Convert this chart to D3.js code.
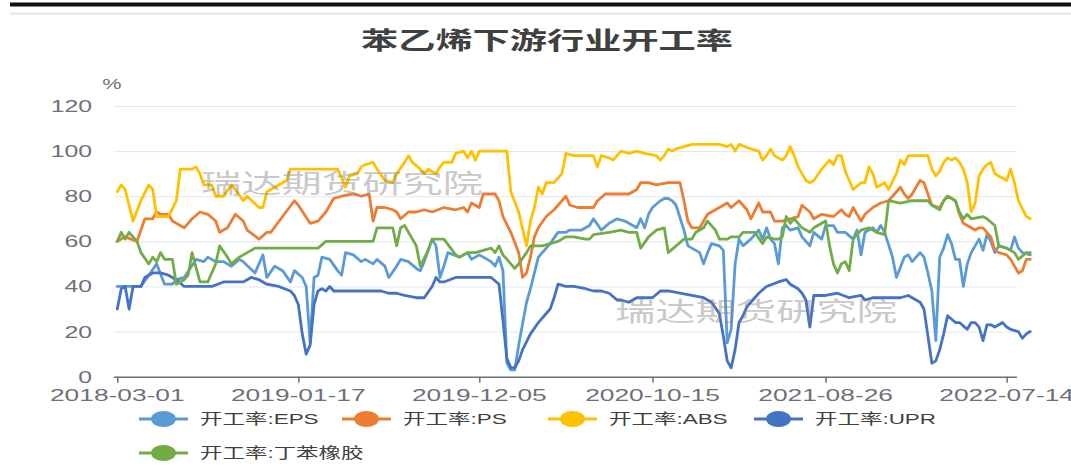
<!DOCTYPE html>
<html><head><meta charset="utf-8">
<script src="https://cdn.jsdelivr.net/npm/d3@7/dist/d3.min.js"></script>
<style>body{margin:0;background:#fff;} svg{display:block;}</style>
</head><body><svg id="c" width="1071" height="476"></svg>
<script>
// ---------- data ----------
const chartTitle = "苯乙烯下游行业开工率";
const unitLabel = "%";
const watermark = "瑞达期货研究院";
const yTickValues = [0, 20, 40, 60, 80, 100, 120];
const tickLabels = ["2018-03-01", "2019-01-17", "2019-12-05", "2020-10-15", "2021-08-26", "2022-07-14"];
const firstWeek = "2018-03-01";
const lastWeek = "2022-07-28";
const skippedWeeks = ["2020-01-30", "2021-02-18"];
const seriesNames = ["开工率:EPS", "开工率:PS", "开工率:ABS", "开工率:UPR", "开工率:丁苯橡胶"];

// [week index, value %]
const eps = [[0,40],[6,40],[8,45],[10,50],[12,41],[14,41],[15,43],[17,44],[20,52],[22,51],[23,53],[25,51],[27,51],[29,49],[31,52],[32,51],[35,46],[37,54],[38,44],[40,49],[42,47],[44,42],[45,47],[47,44],[48,40],[49,15],[50,44],[51,45],[52,53],[54,52],[56,47],[57,45],[58,55],[60,54],[62,51],
[63,52],[65,50],[66,52],[68,49],[69,44],[71,49],[72,52],[74,51],[76,48],[77,47],[78,51],[80,61],[81,58],[82,44],[83,49],[84,55],[87,53],[89,55],[90,52],[92,54],[95,51],[96,49],[97,53],[98,47],[99,6],[100,3],[101,3],[102,14],[104,33],[105,39],[107,53],[108,55],[110,59],[112,64],[114,64],[115,65],[118,65],[120,67],[121,70],[123,65],[125,68],[127,70],[129,69],[132,66],[133,70],[134,66],[135,72],[136,75],[138,78],[139,79],
[140,79],[141,78],[142,76],[144,65],[145,58],[146,57],[148,55],[149,50],[150,55],[151,59],[153,58],[154,56],[155,15],[156,21],[157,50],[158,61],[159,58],[161,61],[163,65],[164,61],[165,66],[166,61],[167,59],[168,50],[169,66],[170,67],[171,65],[173,66],[174,62],[176,58],[177,64],[179,61],[180,67],[182,67],[183,64],[185,64],[187,61],[188,65],[189,54],[190,64],[192,66],[193,64],[194,67],[195,64],[197,53],[198,44],[200,53],[201,54],[202,51],
[204,55],[205,53],[206,46],[207,38],[208,16],[209,53],[210,57],[211,63],[212,59],[213,52],[214,52],[215,40],[216,50],[217,55],[218,58],[219,61],[220,56],[221,63],[222,60],[223,55],[224,58],[226,57],[227,56],[228,62],[229,57],[230,55],[232,54]];

const ps = [[0,60],[2,62],[5,60],[7,70],[9,70],[10,73],[11,72],[13,72],[14,69],[15,68],[17,66],[19,70],[21,73],[23,72],[25,69],[26,64],[28,66],[30,72],[32,69],[33,65],[36,61],[38,64],[39,64],[42,71],[45,78],[46,76],[49,68],[51,69],[53,73],[55,79],[57,80],[60,81],[62,80],
[64,81],[65,69],[66,75],[68,75],[70,74],[71,73],[72,70],[74,73],[76,73],[78,74],[80,73],[83,75],[86,74],[88,75],[89,73],[90,77],[92,75],[93,81],[96,81],[97,78],[98,71],[100,64],[102,55],[103,44],[104,46],[105,53],[106,62],[107,66],[109,71],[111,74],[113,78],[114,80],[115,76],[117,75],[121,75],[122,78],[124,81],[130,81],[132,83],[133,86],[135,86],[137,85],
[140,86],[142,86],[143,86],[144,78],[145,69],[146,66],[148,66],[149,69],[150,72],[152,74],[153,75],[155,77],[156,75],[158,78],[160,74],[161,70],[163,77],[164,73],[166,73],[167,69],[169,69],[171,70],[173,71],[174,76],[176,73],[177,70],[179,72],[182,71],[184,74],[185,72],[186,71],[187,75],[189,69],[190,72],[192,75],[194,77],[196,78],[197,80],[199,84],[200,81],[201,79],[202,81],[204,87],[205,86],[206,81],[207,76],[209,75],[210,78],[211,80],[213,78],[214,72],[215,68],[217,66],[218,65],[219,66],[220,66],[222,62],[223,56],[224,55],[226,54],[227,52],[228,49],[229,46],[230,47],[231,52],[232,52]];

const abs = [[0,82],[1,85],[2,83],[4,69],[6,78],[8,85],[9,83],[10,71],[13,71],[15,78],[16,92],[19,92],[20,93],[21,90],[22,85],[24,85],[25,80],[27,80],[29,85],[30,83],[32,78],[33,80],[36,75],[37,75],[38,82],[39,83],[42,86],[43,87],[44,92],[56,92],[58,84],[59,89],[61,90],[62,93],
[63,94],[65,95],[66,92],[68,87],[70,86],[71,90],[73,95],[74,98],[75,95],[77,92],[78,90],[79,92],[81,90],[82,93],[83,95],[85,95],[86,99],[88,100],[89,97],[90,100],[91,96],[92,100],[99,100],[100,82],[102,73],[104,58],[105,69],[106,75],[107,84],[108,81],[109,86],[111,86],[112,88],[113,90],[114,99],[116,98],[121,98],[122,93],[123,98],[125,97],[126,96],[128,100],[130,99],[132,100],[134,99],[137,98],[138,96],[139,98],[140,101],
[141,100],[142,101],[144,102],[146,103],[153,103],[155,102],[156,103],[157,100],[158,103],[161,101],[163,100],[164,96],[165,98],[166,101],[167,98],[169,96],[170,98],[171,102],[172,98],[173,93],[175,87],[176,86],[177,87],[179,92],[181,96],[182,94],[183,98],[184,98],[185,91],[186,87],[187,83],[189,86],[190,86],[191,93],[192,90],[193,84],[195,86],[196,83],[198,90],[199,96],[200,94],[201,98],[202,98],
[206,98],[207,92],[208,89],[209,91],[210,95],[211,97],[212,96],[213,97],[214,95],[215,92],[216,86],[217,73],[218,77],[219,89],[220,92],[221,94],[222,95],[223,90],[224,89],[226,87],[227,92],[228,86],[229,78],[231,71],[232,70]];

const upr = [[0,30],[1,39],[2,40],[3,30],[4,40],[6,40],[7,44],[9,46],[11,46],[13,45],[15,43],[17,40],[24,40],[27,42],[32,42],[34,44],[36,43],[37,42],[38,41],[41,40],[44,38],[45,36],[46,32],[47,19],[48,10],[49,14],[50,32],[51,38],[52,39],[53,38],[54,40],[55,38],[62,38],
[67,38],[69,37],[71,37],[73,36],[76,35],[78,35],[80,40],[81,44],[82,42],[83,42],[86,44],[95,44],[97,41],[98,25],[99,8],[100,4],[101,4],[102,7],[103,12],[105,19],[107,24],[109,28],[110,30],[111,35],[112,41],[114,40],[116,40],[119,39],[121,38],[123,38],[125,37],[127,34],[128,34],[130,33],[132,35],[134,35],[136,35],[138,38],[140,38],
[143,37],[146,36],[149,35],[151,33],[153,28],[154,18],[155,7],[156,4],[157,12],[158,24],[159,27],[160,31],[163,37],[165,40],[168,42],[170,43],[171,41],[173,39],[174,37],[175,34],[176,22],[177,36],[180,36],[183,37],[186,35],[189,36],[190,34],[192,35],[194,35],[199,35],[201,36],[202,35],
[204,33],[205,30],[206,18],[207,6],[208,7],[209,12],[210,19],[211,27],[213,24],[214,24],[216,21],[217,24],[218,24],[219,22],[220,16],[221,23],[222,23],[223,22],[225,24],[226,22],[227,21],[229,20],[230,17],[231,19],[232,20]];

const sbr = [[0,60],[1,64],[2,61],[3,64],[5,60],[6,55],[8,50],[9,53],[10,51],[11,55],[12,52],[14,52],[15,41],[17,43],[18,45],[19,55],[21,42],[23,42],[25,50],[26,58],[28,53],[29,50],[31,53],[32,54],[35,57],[51,57],[53,60],[62,60],
[65,60],[66,66],[68,66],[70,66],[71,58],[72,66],[73,67],[74,64],[76,58],[77,49],[79,56],[80,61],[83,61],[86,54],[87,53],[89,55],[91,55],[93,56],[95,57],[96,55],[97,58],[98,54],[100,50],[101,48],[102,50],[104,55],[105,58],[108,58],[110,59],[112,60],[114,62],[116,62],[119,61],[120,61],[121,63],[125,64],[128,65],[130,64],[132,64],[133,57],[135,62],[137,65],[139,66],[140,55],
[142,58],[144,61],[146,61],[147,64],[149,66],[150,69],[152,65],[153,61],[155,61],[156,62],[158,62],[159,64],[162,64],[164,59],[165,62],[167,61],[168,61],[169,62],[170,71],[171,68],[172,70],[174,66],[176,64],[177,66],[179,68],[180,69],[181,58],[182,50],[183,46],[184,50],[185,51],[186,47],[187,61],[189,65],[191,66],[192,65],[193,64],[195,63],[196,78],[199,77],[202,78],
[206,78],[207,76],[208,75],[209,74],[210,78],[211,80],[213,78],[214,73],[215,70],[216,72],[217,70],[220,71],[221,70],[223,67],[224,58],[226,57],[228,55],[229,52],[231,55],[232,55]];

const seriesData = [eps, ps, abs, upr, sbr];
const seriesColors = ["#5B9BD5", "#ED7D31", "#FFC000", "#4472C4", "#70AD47"];

// ---------- categories (weekly) ----------
const categories = [];
{
  let d = new Date(firstWeek + "T00:00:00Z");
  const end = new Date(lastWeek + "T00:00:00Z");
  while (d <= end) {
    const s = d.toISOString().slice(0, 10);
    if (!skippedWeeks.includes(s)) categories.push(s);
    d = new Date(d.getTime() + 7 * 864e5);
  }
}
const tickIndex = tickLabels.map(l => categories.indexOf(l));

// ---------- layout ----------
const SX = 1.55;              // horizontal text stretch of the original
const FONT = "'Liberation Sans','Noto Sans CJK SC',Arial,sans-serif";
const svg = d3.select("#c");

const x = d3.scaleLinear().domain([0, categories.length - 1]).range([117.3, 1014.5]);
const y = d3.scaleLinear().domain([0, 120]).range([376.7, 106]);
const plotL = 114, plotR = 1017;

function txt(px, py, s, size, color, anchor, weight, family) {
  return svg.append("text")
    .attr("transform", `translate(${px},${py}) scale(${SX},1)`)
    .attr("text-anchor", anchor || "start")
    .attr("font-family", family || FONT)
    .attr("font-size", size)
    .attr("font-weight", weight || "normal")
    .attr("fill", color)
    .text(s);
}

// top decoration bars
svg.append("rect").attr("x", 10).attr("y", 2.5).attr("width", 1061).attr("height", 4).attr("fill", "#111");
svg.append("rect").attr("x", 10).attr("y", 12.5).attr("width", 1061).attr("height", 2.5).attr("fill", "#e6eaef");

// title
txt(547, 49, chartTitle, 24, "#404040", "middle", "bold", "'Noto Sans CJK SC',sans-serif");

// grid + y labels
const yAxis = d3.axisLeft(y).tickValues(yTickValues).tickSize(-(plotR - plotL)).tickFormat("");
const gy = svg.append("g").attr("transform", `translate(${plotL},0)`).call(yAxis);
gy.select(".domain").remove();
gy.selectAll(".tick line").attr("stroke", "#e0e6f1").attr("stroke-width", 1)
  .filter(d => d === 0).remove();
yTickValues.forEach(v => txt(92, y(v) + 6, String(v), 16, "#6e7079", "end"));
txt(112, 89, unitLabel, 14, "#6e7079", "middle");

// x axis
const xAxis = d3.axisBottom(x).tickValues(tickIndex).tickSize(6).tickFormat("");
const gx = svg.append("g").attr("transform", `translate(0,${y(0)})`).call(xAxis);
gx.select(".domain").attr("d", `M${plotL},0.5H${plotR}`).attr("stroke", "#6e7079").attr("stroke-width", 1.5);
gx.selectAll(".tick line").attr("stroke", "#6e7079").attr("stroke-width", 1.5);
tickIndex.forEach((ix, i) => txt(x(ix), 401, tickLabels[i], 17, "#6e7079", "middle"));

// lines
const line = d3.line().x(d => x(d[0])).y(d => y(d[1]));
seriesData.forEach((s, i) => {
  svg.append("path").datum(s).attr("d", line)
    .attr("fill", "none").attr("stroke", seriesColors[i])
    .attr("stroke-width", 2.8).attr("stroke-linejoin", "round").attr("stroke-linecap", "round");
});

// watermarks
txt(342, 193, watermark, 26, "#808080", "middle").attr("opacity", 0.42);
txt(756, 321, watermark, 26, "#808080", "middle").attr("opacity", 0.42);

// legend
const legendPos = [[139, 419], [342, 419], [548, 419], [754, 419], [139, 453]];
seriesNames.forEach((name, i) => {
  const [lx, ly] = legendPos[i];
  const g = svg.append("g").attr("transform", `translate(${lx},${ly}) scale(${SX},1)`);
  g.append("line").attr("x1", 0).attr("x2", 49 / SX).attr("y1", 0).attr("y2", 0)
    .attr("stroke", seriesColors[i]).attr("stroke-width", 3);
  g.append("circle").attr("cx", 24.5 / SX).attr("cy", 0).attr("r", 8).attr("fill", seriesColors[i]);
  txt(lx + 61, ly + 5, name, 14.5, "#404040", "start");
});
</script>
</body></html>
